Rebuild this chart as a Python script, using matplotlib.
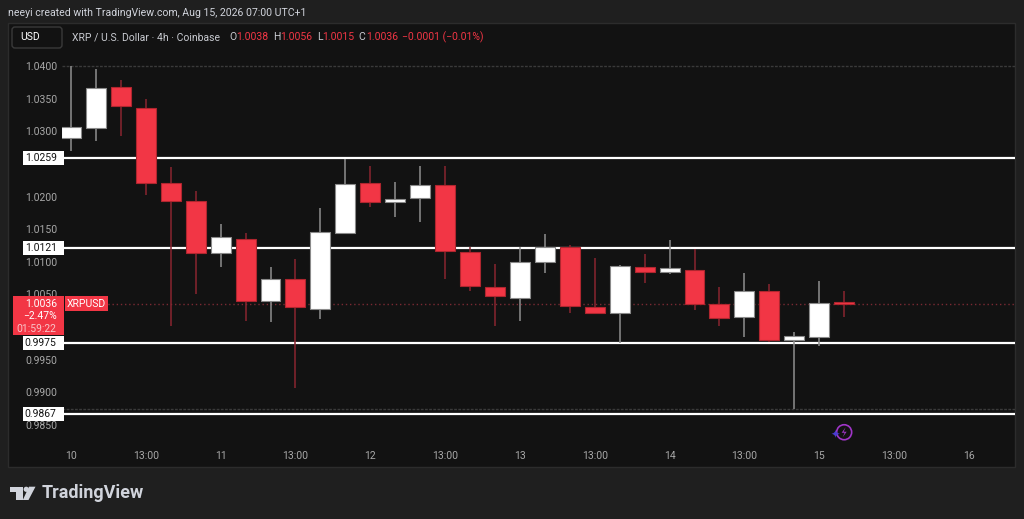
import numpy as np
import matplotlib
matplotlib.use("Agg")
import matplotlib.pyplot as plt
from matplotlib.patches import Rectangle, Circle, Polygon, FancyBboxPatch
from matplotlib.transforms import ScaledTranslation

plt.rcParams['font.family'] = ['Roboto', 'DejaVu Sans']

# ---------------- data (XRP/USD, 4h candles) ----------------
opens = [1.0289, 1.0305, 1.0368, 1.0335, 1.0220, 1.0193, 1.0113, 1.0135, 1.0040, 1.0074,
         1.0028, 1.0144, 1.0220, 1.0192, 1.0197, 1.0217, 1.0115, 1.0062, 1.0045, 1.0099,
         1.0122, 1.0031, 1.0022, 1.0092, 1.0084, 1.0088, 1.0036, 1.0015, 1.0056, 0.9980,
         0.9985, 1.0038]
highs = [1.0400, 1.0395, 1.0379, 1.0349, 1.0245, 1.0208, 1.0158, 1.0144, 1.0092, 1.0104,
         1.0182, 1.0257, 1.0246, 1.0222, 1.0247, 1.0247, 1.0122, 1.0097, 1.0122, 1.0142,
         1.0126, 1.0106, 1.0095, 1.0112, 1.0133, 1.0120, 1.0061, 1.0083, 1.0066, 0.9992,
         1.0071, 1.0056]
lows = [1.0270, 1.0285, 1.0292, 1.0203, 1.0001, 1.0050, 1.0092, 1.0010, 1.0008, 0.9906,
        1.0012, 1.0143, 1.0184, 1.0169, 1.0161, 1.0073, 1.0055, 1.0001, 1.0010, 1.0083,
        1.0021, 1.0020, 0.9975, 1.0067, 1.0082, 1.0026, 1.0002, 0.9985, 0.9977, 0.9874,
        0.9971, 1.0015]
closes = [1.0307, 1.0367, 1.0338, 1.0221, 1.0193, 1.0114, 1.0138, 1.0040, 1.0074, 1.0030,
          1.0145, 1.0219, 1.0192, 1.0196, 1.0217, 1.0117, 1.0063, 1.0047, 1.0099, 1.0122,
          1.0033, 1.0021, 1.0093, 1.0085, 1.0091, 1.0035, 1.0014, 1.0056, 0.9980, 0.9986,
          1.0037, 1.0036]

levels = [1.0259, 1.0121, 0.9975, 0.9867]
last_price = 1.0036

x_tick_pos = [0, 3, 6, 9, 12, 15, 18, 21, 24, 27, 30, 33, 36]
x_tick_labels = ["10", "13:00", "11", "13:00", "12", "13:00", "13", "13:00",
                 "14", "13:00", "15", "13:00", "16"]
y_ticks = [0.985, 0.990, 0.995, 1.000, 1.005, 1.010, 1.015, 1.020, 1.025, 1.030, 1.035, 1.040]
y_tick_labels = ["0.9850", "0.9900", "0.9950", "", "1.0050", "1.0100", "1.0150", "1.0200",
                 "", "1.0300", "1.0350", "1.0400"]

# ---------------- style ----------------
RED = '#f23645'
W, H = 1024, 519
fig = plt.figure(figsize=(W / 100, H / 100), dpi=100, facecolor='#1f1f1f')

bg = fig.add_axes([0, 0, 1, 1], zorder=0)
bg.set_xlim(0, W); bg.set_ylim(H, 0); bg.axis('off')
bg.add_patch(Rectangle((8, 23), 1007, 444, facecolor='#121212', edgecolor='#2c2c2c', lw=1))

ax = fig.add_axes([62 / W, 1 - 440 / H, (1015 - 62) / W, (440 - 52) / H], zorder=2)
ax.patch.set_alpha(0)
for s in ax.spines.values():
    s.set_visible(False)

o = np.array(opens); c = np.array(closes)
x = np.arange(len(o))
up = c >= o
body_col = np.where(up, '#ffffff', RED)
edge_col = np.where(up, '#8a8a8a', '#b0262f')
wick_col = np.where(up, '#8f8f8f', '#8a2530')

# reference lines
ax.axhline(max(highs), color='#3a3a3a', lw=1, ls=(0, (2, 1)), zorder=1)
ax.axhline(min(lows), color='#3a3a3a', lw=1, ls=(0, (2, 1)), zorder=1)
ax.axhline(last_price, color='#7a2a33', lw=1, ls=(0, (1, 2)), zorder=1)
for lv in levels:
    ax.axhline(lv, color='#ffffff', lw=1.6, zorder=2)

ax.vlines(x, lows, highs, colors=wick_col, lw=1.1, zorder=3)
ax.bar(x, c - o, bottom=o, width=0.8, color=body_col, edgecolor=edge_col, lw=0.8, zorder=4)

ax.set_yticks(y_ticks)
ax.set_yticklabels(y_tick_labels)
ax.tick_params(axis='y', length=0, pad=3.6, labelsize=7.5, labelcolor='#a8a8a8')
ax.set_xticks(x_tick_pos)
ax.set_xticklabels(x_tick_labels)
ax.tick_params(axis='x', length=0, pad=8, labelsize=7.5, labelcolor='#a8a8a8')


def anchor(xv, yv, xtrans):
    return fig.dpi_scale_trans + ScaledTranslation(xv, yv, xtrans)


# price level labels on the scale
for lv in levels:
    tr = anchor(0, lv, ax.get_yaxis_transform())
    ax.add_patch(Rectangle((-0.393, -0.07), 0.416, 0.14, transform=tr, facecolor='white',
                           edgecolor='none', clip_on=False, zorder=6))
    ax.text(-0.053, 0, f"{lv:.4f}", transform=tr, ha='right', va='center', fontsize=7.5,
            color='#131313', clip_on=False, zorder=7)

# last price label
tr = anchor(0, last_price, ax.get_yaxis_transform())
ax.add_patch(Rectangle((-0.49, -0.317), 0.51, 0.39, transform=tr, facecolor=RED,
                       edgecolor='none', clip_on=False, zorder=6))
ax.text(-0.053, 0, f"{last_price:.4f}", transform=tr, ha='right', va='center', fontsize=7.5,
        color='white', clip_on=False, zorder=7)
ax.text(-0.053, -0.124, "−2.47%", transform=tr, ha='right', va='center', fontsize=7.5,
        color='white', clip_on=False, zorder=7)
ax.text(-0.053, -0.25, "01:59:22", transform=tr, ha='right', va='center', fontsize=7.5,
        color='#f9c4c8', clip_on=False, zorder=7)
ax.add_patch(Rectangle((0.03, -0.077), 0.427, 0.15, transform=tr, facecolor=RED,
                       edgecolor='none', clip_on=False, zorder=6))
ax.text(0.247, 0, "XRPUSD", transform=tr, ha='center', va='center', fontsize=7.5,
        color='white', clip_on=False, zorder=7)

# event icon
tr_ev = fig.dpi_scale_trans + ScaledTranslation(31, 0.02, ax.get_xaxis_transform())
ax.add_patch(Circle((0.0, 0.0), 0.075, transform=tr_ev, facecolor='none', edgecolor='#a035c8',
                    lw=1.2, clip_on=False, zorder=6))
bolt = np.array([[1.5, 5], [-2.5, -0.5], [0.5, -0.5], [-1.5, -5], [2.5, 0.5], [-0.5, 0.5]]) / 100
ax.add_patch(Polygon(bolt, closed=True, transform=tr_ev, facecolor='#a035c8', edgecolor='none',
                     clip_on=False, zorder=7))
ax.text(-0.09, -0.03, "✦", transform=tr_ev, ha='center', va='center', fontsize=8,
        color='#4b3ccf', family='DejaVu Sans', clip_on=False, zorder=7)

ax.set_xlim(-0.36, 37.85)
ax.set_ylim(0.98270, 1.04214)

# ---------------- header / footer overlay ----------------
ov = fig.add_axes([0, 0, 1, 1], zorder=3)
ov.set_xlim(0, W); ov.set_ylim(H, 0); ov.axis('off'); ov.patch.set_alpha(0)

ov.text(8, 13.5, "neeyi created with TradingView.com, Aug 15, 2026 07:00 UTC+1", fontsize=7.6,
        color='#d1d4dc', va='center', ha='left')
ov.add_patch(FancyBboxPatch((12, 27), 50, 21, boxstyle='round,pad=0,rounding_size=3',
                            facecolor='#121212', edgecolor='#3a3a3a', lw=1))
ov.text(20, 37.5, "USD", fontsize=7.5, color='white', va='center', ha='left')

GREY = '#c9cbd1'
pieces = [(71.7, "XRP / U.S. Dollar · 4h · Coinbase", GREY),
          (229, "O", GREY), (235.7, f"{opens[-1]:.4f}", RED),
          (272.7, "H", GREY), (280, f"{highs[-1]:.4f}", RED),
          (316.7, "L", GREY), (322.3, f"{lows[-1]:.4f}", RED),
          (358.3, "C", GREY), (365.7, f"{closes[-1]:.4f}", RED),
          (401.7, "−0.0001 (−0.01%)", RED)]
for px, t, col in pieces:
    ov.text(px, 37.5, t, fontsize=7.5, color=col, va='center', ha='left')

# TradingView logo
LOGO = '#d1d4dc'
ov.add_patch(Polygon([[10, 486.7], [22.7, 486.7], [22.7, 500], [16, 500], [16, 491.7], [10, 491.7]],
                     closed=True, facecolor=LOGO, edgecolor='none'))
ov.add_patch(Circle((26.2, 489.3), 2.6, facecolor=LOGO, edgecolor='none'))
ov.add_patch(Polygon([[29, 486.7], [35.5, 486.7], [28.5, 500], [22.8, 500]],
                     closed=True, facecolor=LOGO, edgecolor='none'))
ov.text(42, 493.5, "TradingView", fontsize=13, fontweight='bold', color=LOGO, va='center', ha='left')

fig.savefig("out.png", dpi=100, facecolor=fig.get_facecolor())
